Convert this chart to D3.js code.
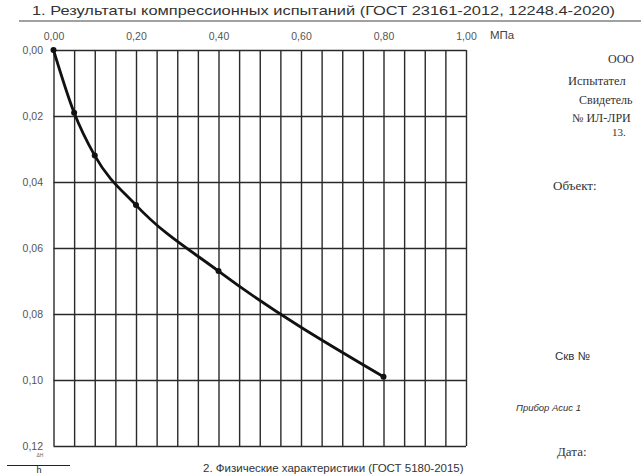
<!DOCTYPE html>
<html>
<head>
<meta charset="utf-8">
<script src="https://cdn.jsdelivr.net/npm/d3@7"></script>
<style>
  html, body { margin: 0; padding: 0; background: #fff; }
  svg { display: block; }
  .tick text { font-family: "Liberation Sans", Arial, sans-serif; fill: #555; }
  .grid .domain { display: none; }
  .grid line { stroke: #2a2a2a; stroke-width: 1.4; }
</style>
</head>
<body>
<div id="chart"></div>
<script>
// pressure, MPa
const PRESSURE = [0, 0.05, 0.1, 0.2, 0.4, 0.8];
// relative settlement dH/h
const STRAIN = [0, 0.019, 0.032, 0.047, 0.067, 0.099];
const X_TICKS = [0, 0.2, 0.4, 0.6, 0.8, 1.0];
const Y_TICKS = [0, 0.02, 0.04, 0.06, 0.08, 0.10, 0.12];

const W = 643, H = 474;
const svg = d3.select('#chart').append('svg')
  .attr('width', W).attr('height', H);

const ru = d3.formatLocale({ decimal: ',', thousands: ' ', grouping: [3], currency: ['', ''] });
const fmt = ru.format('.2f');

const x = d3.scaleLinear().domain([0, 1]).range([53.5, 466]);
const y = d3.scaleLinear().domain([0, 0.12]).range([50, 446]);

// title
svg.append('text')
  .attr('x', 32).attr('y', 15)
  .attr('font-family', '"Liberation Sans", Arial, sans-serif')
  .attr('font-size', 13).attr('fill', '#333')
  .attr('textLength', 583).attr('lengthAdjust', 'spacingAndGlyphs')
  .text('1. Результаты компрессионных испытаний (ГОСТ 23161-2012, 12248.4-2020)');
svg.append('line')
  .attr('x1', 19).attr('x2', 641).attr('y1', 21).attr('y2', 21)
  .attr('stroke', '#444').attr('stroke-width', 1.2);

// grid: verticals every 0.05, horizontals every 0.02
svg.append('g').attr('class', 'grid')
  .attr('transform', `translate(0,${y(0.12)})`)
  .call(d3.axisBottom(x).ticks(20).tickSize(-(y(0.12) - y(0))).tickFormat(''));
svg.append('g').attr('class', 'grid')
  .attr('transform', `translate(${x(0)},0)`)
  .call(d3.axisLeft(y).tickValues(Y_TICKS).tickSize(-(x(1) - x(0))).tickFormat(''));

// tick labels
svg.append('g')
  .attr('transform', `translate(0,${y(0) - 10})`)
  .call(d3.axisTop(x).tickValues(X_TICKS).tickSize(0).tickPadding(0).tickFormat(fmt))
  .call(g => g.select('.domain').remove())
  .call(g => g.selectAll('text').attr('font-size', 10.5));
svg.append('g')
  .attr('transform', `translate(${x(0) - 10.5},0)`)
  .call(d3.axisLeft(y).tickValues(Y_TICKS).tickSize(0).tickPadding(0).tickFormat(fmt))
  .call(g => g.select('.domain').remove())
  .call(g => g.selectAll('text').attr('font-size', 10.5));

svg.append('text')
  .attr('x', 490).attr('y', 39)
  .attr('font-family', '"Liberation Sans", Arial, sans-serif')
  .attr('font-size', 11.5).attr('fill', '#444')
  .text('МПа');

// curve
const pts = PRESSURE.map((p, i) => [p, STRAIN[i]]);
svg.append('path')
  .datum(pts)
  .attr('fill', 'none').attr('stroke', '#111').attr('stroke-width', 2.8)
  .attr('d', d3.line().x(d => x(d[0])).y(d => y(d[1])).curve(d3.curveMonotoneX));
svg.selectAll('circle.pt')
  .data(pts).join('circle')
  .attr('class', 'pt')
  .attr('cx', d => x(d[0])).attr('cy', d => y(d[1]))
  .attr('r', 3).attr('fill', '#111');

// dH/h label
svg.append('text')
  .attr('x', 40).attr('y', 457)
  .attr('font-family', '"Liberation Sans", Arial, sans-serif')
  .attr('font-size', 5).attr('fill', '#666')
  .attr('text-anchor', 'middle')
  .text('ΔН');
svg.append('line')
  .attr('x1', 7).attr('x2', 70).attr('y1', 465.5).attr('y2', 465.5)
  .attr('stroke', '#222').attr('stroke-width', 1.2);
svg.append('text')
  .attr('x', 39).attr('y', 473)
  .attr('font-family', '"Liberation Sans", Arial, sans-serif')
  .attr('font-size', 9).attr('fill', '#222')
  .attr('text-anchor', 'middle')
  .text('h');

// section 2 heading
svg.append('text')
  .attr('x', 203).attr('y', 472)
  .attr('font-family', '"Liberation Sans", Arial, sans-serif')
  .attr('font-size', 11.5).attr('fill', '#333')
  .text('2. Физические характеристики (ГОСТ 5180-2015)');

// right panel (text visible up to the page edge)
const serif = '"Liberation Serif", "Times New Roman", serif';
const sans = '"Liberation Sans", Arial, sans-serif';
const side = [
  { t: 'ООО', x: 608, y: 63, f: serif, s: 12 },
  { t: 'Испытател', x: 568, y: 85, f: serif, s: 12.5 },
  { t: 'Свидетель', x: 579, y: 104, f: serif, s: 12 },
  { t: '№ ИЛ-ЛРИ', x: 572, y: 122, f: serif, s: 12 },
  { t: '13.', x: 612, y: 136, f: serif, s: 11 },
  { t: 'Объект:', x: 553, y: 190, f: serif, s: 13 },
  { t: 'Скв №', x: 555, y: 360, f: sans, s: 11.5 },
  { t: 'Прибор Асис 1', x: 516, y: 411, f: sans, s: 9.5, i: true },
  { t: 'Дата:', x: 557, y: 456, f: serif, s: 13 },
];
svg.selectAll('text.side')
  .data(side).join('text')
  .attr('class', 'side')
  .attr('x', d => d.x).attr('y', d => d.y)
  .attr('font-family', d => d.f).attr('font-size', d => d.s)
  .attr('font-style', d => d.i ? 'italic' : 'normal')
  .attr('fill', '#333')
  .text(d => d.t);
</script>
</body>
</html>
